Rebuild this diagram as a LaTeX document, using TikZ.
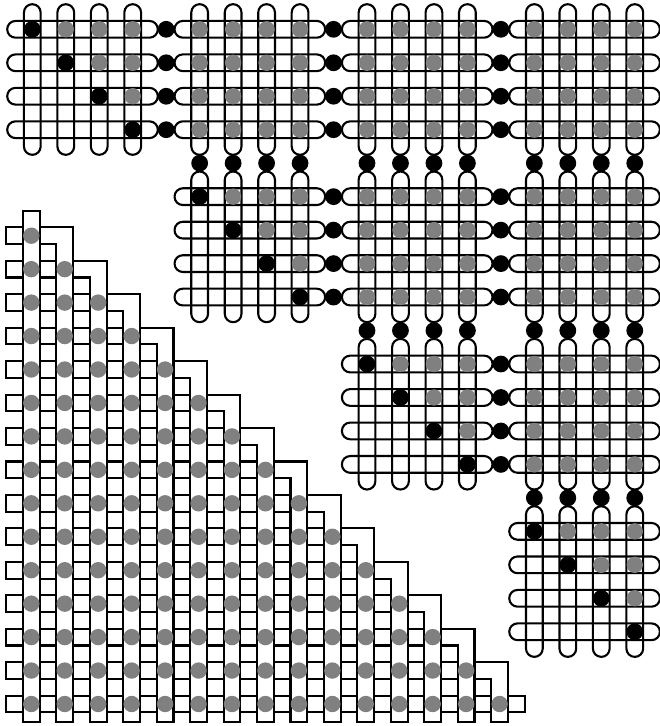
\documentclass[tikz,border=0pt]{standalone}
\definecolor{dotgray}{RGB}{128,128,128}
\tikzset{
  pill/.style={line width=2.1pt, rounded corners=8.3pt},
  bdot/.style={fill=black},
  gdot/.style={fill=dotgray},
  tri/.style={line width=2.1pt}
}
\begin{document}
\begin{tikzpicture}[x=1pt,y=-1pt]
\useasboundingbox (0,0) rectangle (660,726);
\def\U{33.47}
\def\XO{32.3}
\def\YO{29.3}
\def\hh{8.37}
\def\ext{25.1}
% ---------- blocks: pills ----------
\foreach \bi in {0,...,3}{
  \foreach \bj in {\bi,...,3}{
    \foreach \r in {0,...,3}{
      \pgfmathsetmacro{\yc}{\YO+(5*\bi+\r)*\U}
      \pgfmathsetmacro{\xa}{\XO+(5*\bj)*\U-\ext}
      \pgfmathsetmacro{\xb}{\XO+(5*\bj+3)*\U+\ext}
      \draw[pill] (\xa,\yc-\hh) rectangle (\xb,\yc+\hh);
      \pgfmathsetmacro{\xc}{\XO+(5*\bj+\r)*\U}
      \pgfmathsetmacro{\ya}{\YO+(5*\bi)*\U-\ext}
      \pgfmathsetmacro{\yb}{\YO+(5*\bi+3)*\U+\ext}
      \draw[pill] (\xc-\hh,\ya) rectangle (\xc+\hh,\yb);
    }
  }
}
% ---------- blocks: dots ----------
\foreach \bi in {0,...,3}{
  \foreach \bj in {\bi,...,3}{
    \foreach \r in {0,...,3}{
      \foreach \c in {0,...,3}{
        \pgfmathtruncatemacro{\kind}{(\bi==\bj) ? ((\c==\r) ? 1 : ((\c>\r) ? 2 : 0)) : 2}
        \pgfmathsetmacro{\xc}{\XO+(5*\bj+\c)*\U}
        \pgfmathsetmacro{\yc}{\YO+(5*\bi+\r)*\U}
        \ifnum\kind=1 \fill[bdot] (\xc,\yc) circle (8.4pt);\fi
        \ifnum\kind=2 \fill[gdot] (\xc,\yc) circle (8.2pt);\fi
      }
    }
  }
}
% ---------- separators ----------
\foreach \bi in {0,...,2}{
  \foreach \bj in {\bi,...,2}{
    \foreach \r in {0,...,3}{
      \pgfmathsetmacro{\xc}{\XO+(5*\bj+4)*\U}
      \pgfmathsetmacro{\yc}{\YO+(5*\bi+\r)*\U}
      \fill[bdot] (\xc,\yc) circle (8.4pt);
    }
  }
  \pgfmathtruncatemacro{\bs}{\bi+1}
  \foreach \bj in {\bs,...,3}{
    \foreach \c in {0,...,3}{
      \pgfmathsetmacro{\xc}{\XO+(5*\bj+\c)*\U}
      \pgfmathsetmacro{\yc}{\YO+(5*\bi+4)*\U}
      \fill[bdot] (\xc,\yc) circle (8.4pt);
    }
  }
}
% ---------- triangle ----------
\def\TU{33.45}
\def\TX{31.3}
\def\TY{235.7}
\def\th{8.36}
\def\bott{721.8}
% column 0
\draw[tri] (\TX-\th,\TY-3*\th) rectangle (\TX+\th,\bott);
% columns 1..14 with gaps
\foreach \mi in {1,...,14}{
  \pgfmathsetmacro{\xm}{\TX+\mi*\TU}
  \pgfmathsetmacro{\xp}{\TX+(\mi-1)*\TU}
  \pgfmathsetmacro{\yp}{\TY+(\mi-1)*\TU}
  \draw[tri] (\xp+\th,\yp+\th) -- (\xm-\th,\yp+\th) -- (\xm-\th,\bott) -- (\xm+\th,\bott) -- (\xm+\th,\yp-\th) -- (\xp+\th,\yp-\th);
  \foreach \ni in {\mi,...,14}{
    \pgfmathsetmacro{\yn}{\TY+\ni*\TU}
    \draw[tri] (\xp+\th,\yn-\th) -- (\xm-\th,\yn-\th);
    \draw[tri] (\xp+\th,\yn+\th) -- (\xm-\th,\yn+\th);
  }
}
% left boxes
\foreach \ni in {0,...,14}{
  \pgfmathsetmacro{\yn}{\TY+\ni*\TU}
  \draw[tri] (\TX-3*\th,\yn-\th) rectangle (\TX-\th,\yn+\th);
}
% right box of last row
\pgfmathsetmacro{\xl}{\TX+14*\TU}
\pgfmathsetmacro{\yl}{\TY+14*\TU}
\draw[tri] (\xl+\th,\yl-\th) rectangle (\xl+3*\th,\yl+\th);
% gray dots
\foreach \ni in {0,...,14}{
  \foreach \mi in {0,...,\ni}{
    \pgfmathsetmacro{\xm}{\TX+\mi*\TU}
    \pgfmathsetmacro{\yn}{\TY+\ni*\TU}
    \fill[gdot] (\xm,\yn) circle (8.2pt);
  }
}
\end{tikzpicture}
\end{document}
